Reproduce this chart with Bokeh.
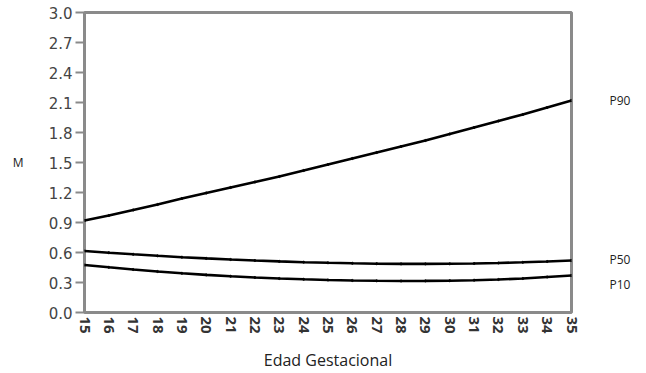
from bokeh.plotting import figure
from bokeh.models import FixedTicker, Range1d, LinearAxis
from bokeh.embed import file_html
from bokeh.resources import INLINE

weeks = list(range(15, 36))
p90 = [0.92, 0.97, 1.025, 1.08, 1.14, 1.195, 1.25, 1.305, 1.36, 1.42, 1.48,
       1.54, 1.60, 1.66, 1.72, 1.785, 1.85, 1.915, 1.98, 2.05, 2.12]
p50 = [0.615, 0.598, 0.582, 0.567, 0.553, 0.541, 0.53, 0.52, 0.511, 0.503, 0.497,
       0.492, 0.488, 0.486, 0.486, 0.487, 0.49, 0.495, 0.502, 0.51, 0.52]
p10 = [0.475, 0.452, 0.43, 0.41, 0.392, 0.376, 0.362, 0.35, 0.34, 0.332, 0.325,
       0.32, 0.317, 0.315, 0.316, 0.318, 0.323, 0.33, 0.34, 0.355, 0.37]
series_names = ["P90", "P50", "P10"]
y_ticks = [0.0, 0.3, 0.6, 0.9, 1.2, 1.5, 1.8, 2.1, 2.4, 2.7, 3.0]
y_tick_labels = ["0.0", "0.3", "0.6", "0.9", "1.2", "1.5", "1.8", "2.1", "2.4", "2.7", "3.0"]
x_label = "Edad Gestacional"
y_label = "M"

p = figure(width=646, height=373, output_backend="svg", toolbar_location=None,
           x_range=Range1d(15, 35), y_range=Range1d(0, 3),
           min_border_left=84, min_border_right=75, min_border_top=12, min_border_bottom=57)
p.background_fill_color = "white"
p.border_fill_color = "white"
p.outline_line_color = "#8a8a8a"
p.outline_line_width = 3
p.xgrid.visible = False
p.ygrid.visible = False

for vals in (p90, p50, p10):
    p.line(weeks, vals, line_color="black", line_width=2.6)
    p.scatter(weeks, vals, size=2.2, color="black", alpha=0.8)

# left axis
ya = p.yaxis[0]
ya.ticker = FixedTicker(ticks=y_ticks)
ya.major_label_overrides = {t: l for t, l in zip(y_ticks, y_tick_labels)}
ya.axis_line_color = None
ya.major_tick_line_color = "#8a8a8a"
ya.major_tick_line_width = 2
ya.major_tick_out = 9
ya.major_tick_in = 0
ya.minor_tick_line_color = None
ya.major_label_standoff = 3
ya.major_label_text_font = "DejaVu Sans"
ya.major_label_text_font_size = "15px"
ya.major_label_text_color = "#444444"
ya.axis_label = y_label
ya.axis_label_orientation = "horizontal"
ya.axis_label_standoff = 22
ya.axis_label_text_font = "Open Sans"
ya.axis_label_text_font_style = "normal"
ya.axis_label_text_font_size = "12px"
ya.axis_label_text_color = "#222222"

# bottom axis
xa = p.xaxis[0]
xa.ticker = FixedTicker(ticks=weeks)
xa.axis_line_color = None
xa.major_tick_line_color = None
xa.major_tick_out = 0
xa.major_tick_in = 0
xa.minor_tick_line_color = None
xa.major_label_orientation = "vertical"
xa.major_label_standoff = 4
xa.major_label_text_font = "Open Sans"
xa.major_label_text_font_style = "bold"
xa.major_label_text_font_size = "15px"
xa.major_label_text_color = "#333333"
xa.axis_label = x_label
xa.axis_label_standoff = 12
xa.axis_label_text_font = "Open Sans"
xa.axis_label_text_font_style = "normal"
xa.axis_label_text_font_size = "16px"
xa.axis_label_text_color = "#222222"

# series end labels on a right-hand axis
label_nudges = [0.0, 0.013, -0.094]
end_vals = [p90[-1], p50[-1], p10[-1]]
label_pos = [v + d for v, d in zip(end_vals, label_nudges)]
ra = LinearAxis(ticker=FixedTicker(ticks=label_pos),
                major_label_overrides={pos: n for pos, n in zip(label_pos, series_names)})
ra.axis_line_color = None
ra.major_tick_line_color = None
ra.major_tick_out = 0
ra.major_tick_in = 0
ra.minor_tick_line_color = None
ra.major_label_standoff = 38
ra.major_label_text_font = "Open Sans"
ra.major_label_text_font_size = "12px"
ra.major_label_text_color = "#222222"
p.add_layout(ra, "right")

open("out.html", "w").write(file_html(p, INLINE))
